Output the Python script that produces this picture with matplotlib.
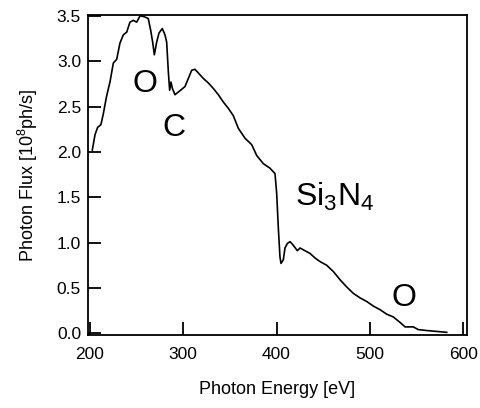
"""Photon flux spectrum through a Si3N4 window."""

import matplotlib
matplotlib.use("Agg")
import matplotlib.pyplot as plt

plt.rcParams["font.family"] = ["Liberation Sans", "DejaVu Sans"]
plt.rcParams["mathtext.fontset"] = "custom"
plt.rcParams["mathtext.rm"] = "Liberation Sans"
plt.rcParams["mathtext.it"] = "Liberation Sans"
plt.rcParams["mathtext.default"] = "regular"

# ---------------------------------------------------------------------------
# Data
# ---------------------------------------------------------------------------
energy = [202.8, 205.7, 208.5, 212.0, 214.6, 218.0, 221.7, 225.3, 228.9, 232.4,
          236.0, 239.6, 243.1, 246.7, 250.3, 253.9, 258.5, 262.7, 265.3, 267.4,
          269.2, 271.7, 274.2, 277.7, 280.6, 282.4, 284.2, 285.6, 287.0, 288.5,
          291.3, 294.9, 298.5, 302.0, 305.6, 309.2, 312.7, 316.3, 321.6, 327.0,
          332.3, 337.7, 343.0, 348.4, 353.7, 359.1, 366.3, 373.4, 378.8, 385.9,
          393.0, 398.4, 400.2, 401.9, 403.7, 404.8, 407.3, 409.1, 411.6, 414.5,
          418.0, 422.3, 425.2, 430.5, 435.9, 441.2, 446.6, 453.7, 460.9, 468.0,
          475.2, 482.2, 489.4, 496.6, 503.6, 510.8, 518.0, 525.0, 532.2, 537.6,
          541.1, 546.5, 551.8, 560.8, 571.5, 582.2]
flux = [2.02, 2.19, 2.27, 2.30, 2.42, 2.61, 2.77, 2.98, 3.02, 3.20,
        3.29, 3.32, 3.43, 3.45, 3.43, 3.50, 3.49, 3.47, 3.34, 3.21,
        3.07, 3.21, 3.31, 3.36, 3.29, 3.21, 2.88, 2.68, 2.77, 2.70,
        2.63, 2.66, 2.69, 2.72, 2.81, 2.90, 2.91, 2.87, 2.81, 2.76,
        2.70, 2.63, 2.55, 2.48, 2.40, 2.26, 2.15, 2.08, 1.96, 1.87,
        1.82, 1.76, 1.54, 1.17, 0.84, 0.77, 0.81, 0.94, 0.99, 1.01,
        0.97, 0.91, 0.94, 0.91, 0.88, 0.83, 0.79, 0.75, 0.68, 0.59,
        0.51, 0.44, 0.39, 0.35, 0.30, 0.26, 0.21, 0.18, 0.12, 0.07,
        0.07, 0.07, 0.04, 0.03, 0.02, 0.01]

x_ticks = [200, 300, 400, 500, 600]
y_ticks = [0.0, 0.5, 1.0, 1.5, 2.0, 2.5, 3.0, 3.5]

# edge labels: (text, energy, flux at baseline, horizontal alignment)
labels = [("O", 258.7, 2.66, "center"), ("C", 290.0, 2.18, "center"),
          ("Si$_3$N$_4$", 419.8, 1.40, "left"), ("O", 536.3, 0.30, "center")]

# ---------------------------------------------------------------------------
# Plot
# ---------------------------------------------------------------------------
fig = plt.figure(figsize=(4.81, 4.08), dpi=100)
ax = fig.add_axes([0.183, 0.179, 0.788, 0.784])

ax.plot(energy, flux, color="black", lw=1.2)

for txt, e, f, ha in labels:
    ax.text(e, f, txt, fontsize=23, ha=ha, va="baseline")

ax.set_xlim(198.2, 604)
ax.set_ylim(-0.019, 3.508)
ax.set_xticks(x_ticks)
ax.set_yticks(y_ticks)
ax.set_yticklabels([f"{v:.1f}" for v in y_ticks])
ax.tick_params(direction="in", length=9.5, width=1.3, labelsize=12.5)
ax.tick_params(axis="x", pad=9)
ax.tick_params(axis="y", pad=5)
for sp in ax.spines.values():
    sp.set_linewidth(1.3)

ax.set_xlabel("Photon Energy [eV]", fontsize=13, labelpad=13)
ax.set_ylabel("Photon Flux [10$^8$ph/s]", fontsize=13, labelpad=12)

fig.savefig("out.png", dpi=100)
